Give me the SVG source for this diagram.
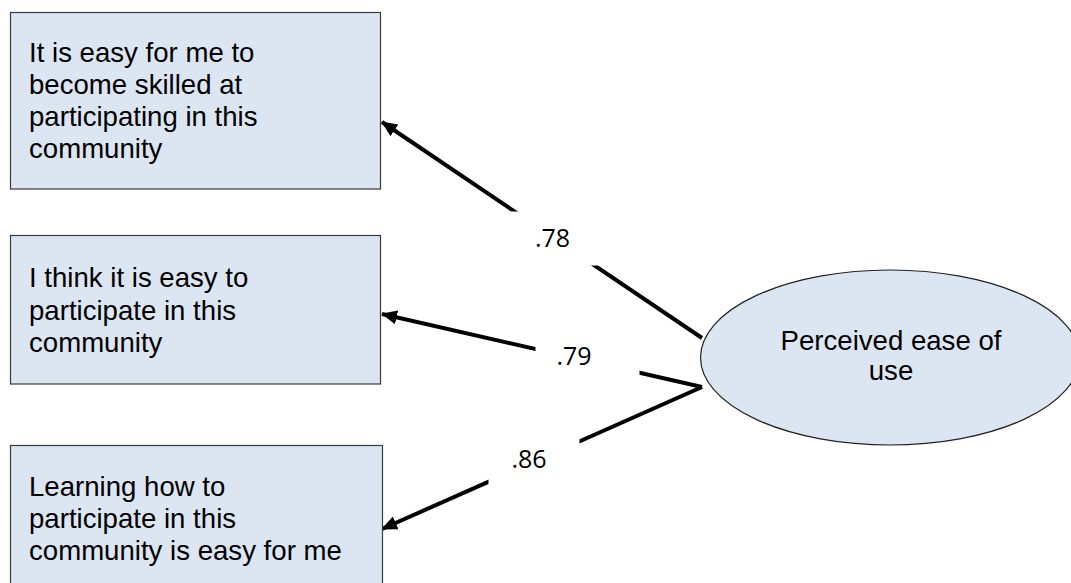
<svg xmlns="http://www.w3.org/2000/svg" width="1071" height="583" viewBox="0 0 1071 583">
  <style>
    .item { fill: #dce6f2; stroke: #3a3a3a; stroke-width: 1.2; }
    .latent { fill: #dce6f2; stroke: #222222; stroke-width: 1.2; }
    .txt { font-family: "Liberation Sans", Arial, sans-serif; font-size: 27.6px; fill: #000000; }
    .load { font-family: "Open Sans", "Noto Sans", sans-serif; font-size: 25px; fill: #000000; }
    .path { stroke: #000000; stroke-width: 4; fill: none; marker-end: url(#head); }
    .mask { fill: #ffffff; stroke: none; }
  </style>
  <defs>
    <marker id="head" markerUnits="userSpaceOnUse" markerWidth="16" markerHeight="14" refX="15" refY="7" orient="auto">
      <path d="M0,0 L16,7 L0,14 Z" fill="#000000"/>
    </marker>
  </defs>

  <!-- factor loadings: paths from the latent variable to its indicators -->
  <g id="connectors">
    <line class="path" x1="702" y1="338" x2="382" y2="122"/>
    <line class="path" x1="702" y1="387" x2="382" y2="314"/>
    <line class="path" x1="702" y1="387" x2="382" y2="529"/>
    <!-- label backgrounds interrupt the paths -->
    <rect class="mask" x="500" y="211.5" width="106" height="54"/>
    <rect class="mask" x="535.5" y="336" width="104" height="46"/>
    <rect class="mask" x="488.5" y="436" width="91" height="52"/>
    <text class="load" x="535" y="247">.78</text>
    <text class="load" x="556.5" y="365">.79</text>
    <text class="load" x="511.5" y="467.5">.86</text>
  </g>

  <g id="item1">
    <rect class="item" x="10.5" y="12.5" width="370" height="176.5"/>
    <text class="txt" x="29" y="62">It is easy for me to</text>
    <text class="txt" x="29" y="94">become skilled at</text>
    <text class="txt" x="29" y="126">participating in this</text>
    <text class="txt" x="29" y="158">community</text>
  </g>

  <g id="item2">
    <rect class="item" x="10.5" y="235.5" width="370" height="148.5"/>
    <text class="txt" x="29" y="287">I think it is easy to</text>
    <text class="txt" x="29" y="319.5">participate in this</text>
    <text class="txt" x="29" y="352">community</text>
  </g>

  <g id="item3">
    <rect class="item" x="10.5" y="445.5" width="372" height="160"/>
    <text class="txt" x="29" y="496">Learning how to</text>
    <text class="txt" x="29" y="528">participate in this</text>
    <text class="txt" x="29" y="560">community is easy for me</text>
  </g>

  <g id="ease-of-use">
    <ellipse class="latent" cx="890" cy="357.5" rx="189.5" ry="87.5"/>
    <text class="txt" x="891" y="350" text-anchor="middle">Perceived ease of</text>
    <text class="txt" x="891" y="380" text-anchor="middle">use</text>
  </g>
</svg>
